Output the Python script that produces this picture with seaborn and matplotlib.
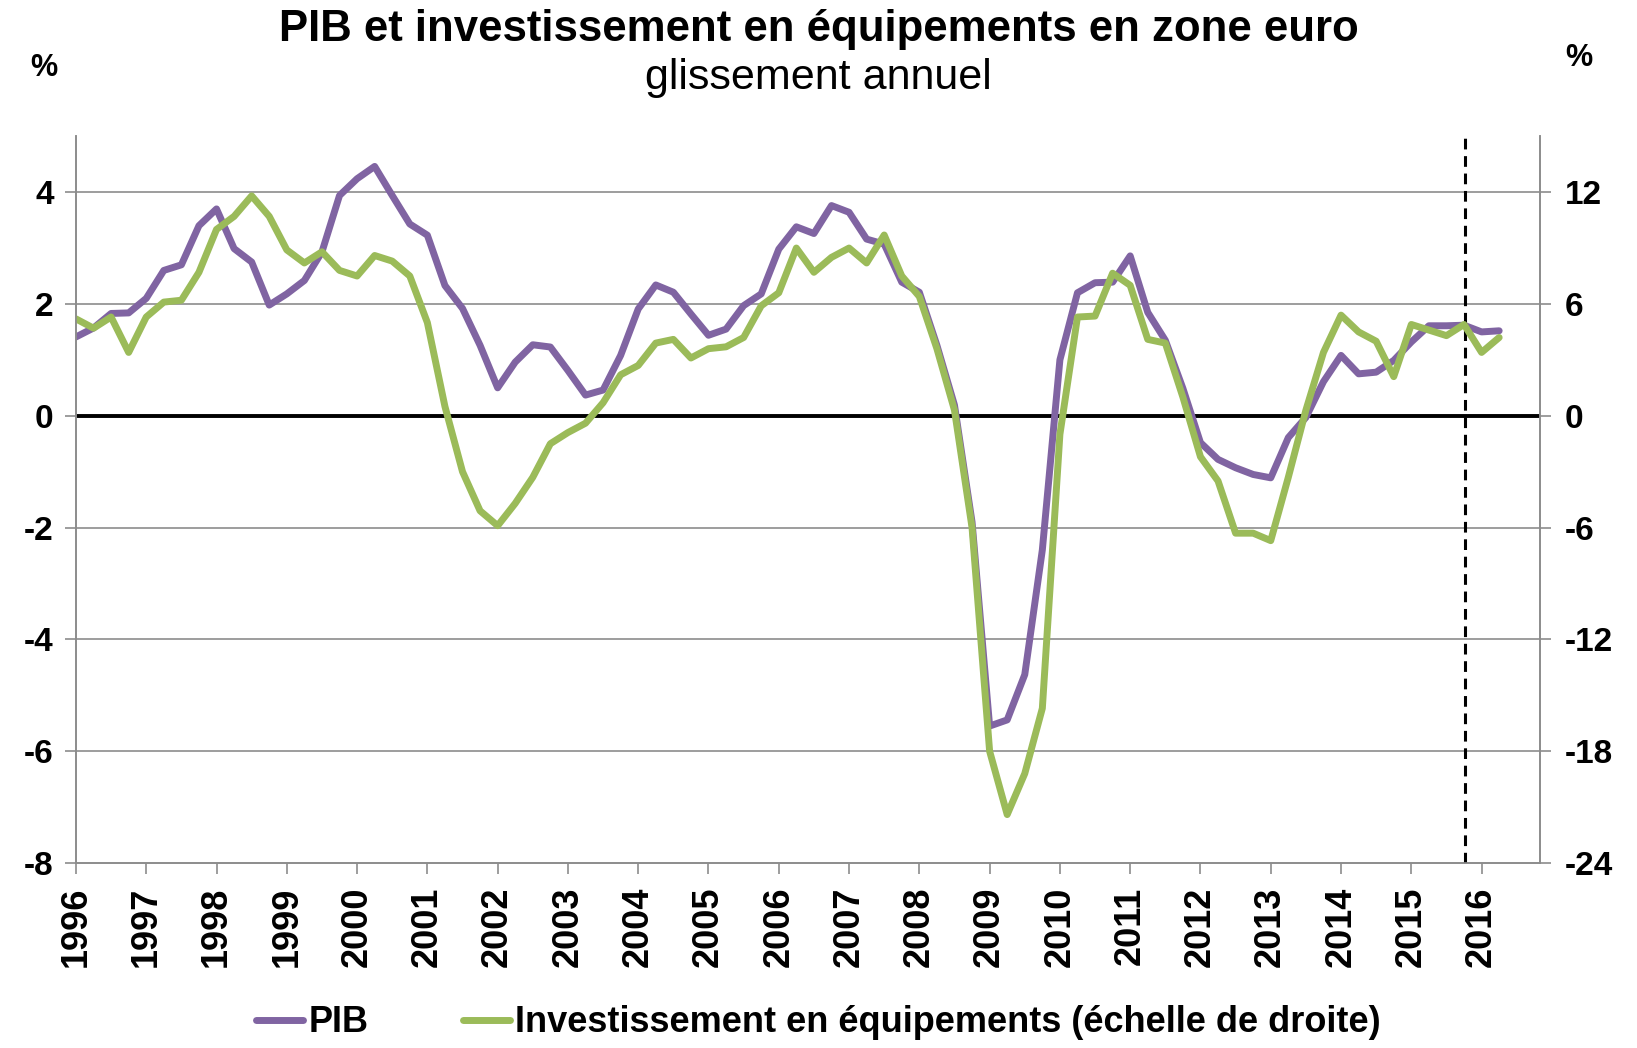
import matplotlib
matplotlib.use('Agg')
import matplotlib.pyplot as plt
import seaborn as sns
import numpy as np
import pandas as pd

# données trimestrielles, glissement annuel (%)
trimestres = pd.period_range('1996Q1', '2016Q2', freq='Q')

pib = [1.41, 1.57, 1.83, 1.84,
       2.10, 2.60, 2.70, 3.40,
       3.70, 2.99, 2.75, 1.98,
       2.18, 2.42, 2.93, 3.94,
       4.24, 4.46, 3.94, 3.43,
       3.23, 2.33, 1.92, 1.26,
       0.50, 0.96, 1.27, 1.23,
       0.81, 0.37, 0.46, 1.08,
       1.91, 2.34, 2.21, 1.82,
       1.44, 1.55, 1.97, 2.18,
       2.98, 3.38, 3.26, 3.76,
       3.64, 3.16, 3.07, 2.39,
       2.21, 1.26, 0.19, -1.90,
       -5.55, -5.44, -4.63, -2.40,
       1.00, 2.20, 2.38, 2.39,
       2.86, 1.85, 1.35, 0.49,
       -0.48, -0.78, -0.93, -1.05,
       -1.11, -0.39, -0.03, 0.61,
       1.08, 0.75, 0.78, 0.99,
       1.32, 1.61, 1.61, 1.62,
       1.50, 1.52]

invest = [5.2, 4.7, 5.3, 3.4,
          5.3, 6.1, 6.2, 7.7,
          10.0, 10.7, 11.8, 10.7,
          8.9, 8.2, 8.8, 7.8,
          7.5, 8.6, 8.3, 7.5,
          5.0, 0.5, -3.0, -5.1,
          -5.9, -4.7, -3.3, -1.5,
          -0.9, -0.4, 0.7, 2.2,
          2.7, 3.9, 4.1, 3.1,
          3.6, 3.7, 4.2, 5.9,
          6.6, 9.0, 7.7, 8.5,
          9.0, 8.2, 9.7, 7.5,
          6.4, 3.6, 0.3, -6.0,
          -18.0, -21.4, -19.2, -15.7,
          -1.0, 5.3, 5.35, 7.65,
          7.0, 4.1, 3.9, 1.0,
          -2.2, -3.5, -6.3, -6.3,
          -6.7, -3.3, 0.3, 3.4,
          5.4, 4.5, 4.0, 2.1,
          4.9, 4.6, 4.3, 4.9,
          3.4, 4.2]

annees = list(range(1996, 2017))
ticks_gauche = list(range(-8, 5, 2))
ticks_droite = list(range(-24, 13, 6))
date_prevision = 2015.76

couleur_pib = '#8064A2'
couleur_inv = '#9BBB59'

sns.set_style('white')
plt.rcParams['font.family'] = ['Liberation Sans', 'DejaVu Sans']
plt.rcParams['axes.unicode_minus'] = False
for k in ['text.color', 'xtick.color', 'ytick.color', 'axes.labelcolor']:
    plt.rcParams[k] = 'black'

df = pd.DataFrame({
    'date': trimestres.year + (trimestres.quarter - 1) / 4,
    'pib': pib,
    'invest': invest,
})

fig = plt.figure(figsize=(16.37, 10.48), dpi=100)
ax = fig.add_axes([0.0464, 0.1765, 0.8943, 0.6935])
ax2 = ax.twinx()

# grille et ligne du zéro
for v in ticks_gauche[1:]:
    ax.axhline(v, color='#8c8c8c', lw=1.2, zorder=0)
ax.axhline(0, color='black', lw=2.8, zorder=1)

sns.lineplot(data=df, x='date', y='pib', ax=ax, color=couleur_pib, lw=5,
             label='PIB', legend=False)
sns.lineplot(data=df, x='date', y='invest', ax=ax2, color=couleur_inv, lw=5,
             label='Investissement en équipements (échelle de droite)', legend=False)
ax.axvline(date_prevision, color='black', lw=2.2, ls=(0, (3.5, 2.2)), zorder=3)

ax.set_xlim(1996, 2016.83)
ax.set_ylim(-8, 5)
ax2.set_ylim(-24, 15)
ax.set_xticks(annees)
ax.set_xticklabels([str(a) for a in annees], rotation=90, fontsize=26,
                   fontweight='bold')
ax.set_yticks(ticks_gauche)
ax.set_yticklabels([str(v) for v in ticks_gauche], fontsize=24,
                   fontweight='bold')
ax2.set_yticks(ticks_droite)
ax2.set_yticklabels([str(v) for v in ticks_droite], fontsize=24,
                    fontweight='bold')
ax.set_xlabel('')
ax.set_ylabel('')
ax2.set_ylabel('')

for a in (ax, ax2):
    for s in a.spines.values():
        s.set_color('#8c8c8c')
        s.set_linewidth(1.2)
    a.spines['top'].set_visible(False)
ax.tick_params(axis='both', direction='out', length=8, width=1.2,
               color='#8c8c8c', labelcolor='black', left=True, bottom=True)
ax.tick_params(axis='x', pad=9)
ax.tick_params(axis='y', pad=8)
ax2.tick_params(axis='y', direction='out', length=8, width=1.2,
                color='#8c8c8c', labelcolor='black', pad=10, right=True)

# titres
fig.text(0.5, 0.972, 'PIB et investissement en équipements en zone euro',
         ha='center', va='center', fontsize=31.5, fontweight='bold')
fig.text(0.5, 0.926, 'glissement annuel', ha='center', va='center', fontsize=31)
fig.text(0.027, 0.935, '%', ha='center', va='center', fontsize=22,
         fontweight='bold')
fig.text(0.9645, 0.945, '%', ha='center', va='center', fontsize=22,
         fontweight='bold')

# légende
h1, l1 = ax.get_legend_handles_labels()
h2, l2 = ax2.get_legend_handles_labels()
fig.legend(h1 + h2, l1 + l2, loc='center', bbox_to_anchor=(0.5, 0.024),
           ncol=2, frameon=False, handlelength=1.3, handletextpad=0.15,
           columnspacing=2.6, prop={'size': 26, 'weight': 'bold'})

fig.savefig('out.png', dpi=100)
